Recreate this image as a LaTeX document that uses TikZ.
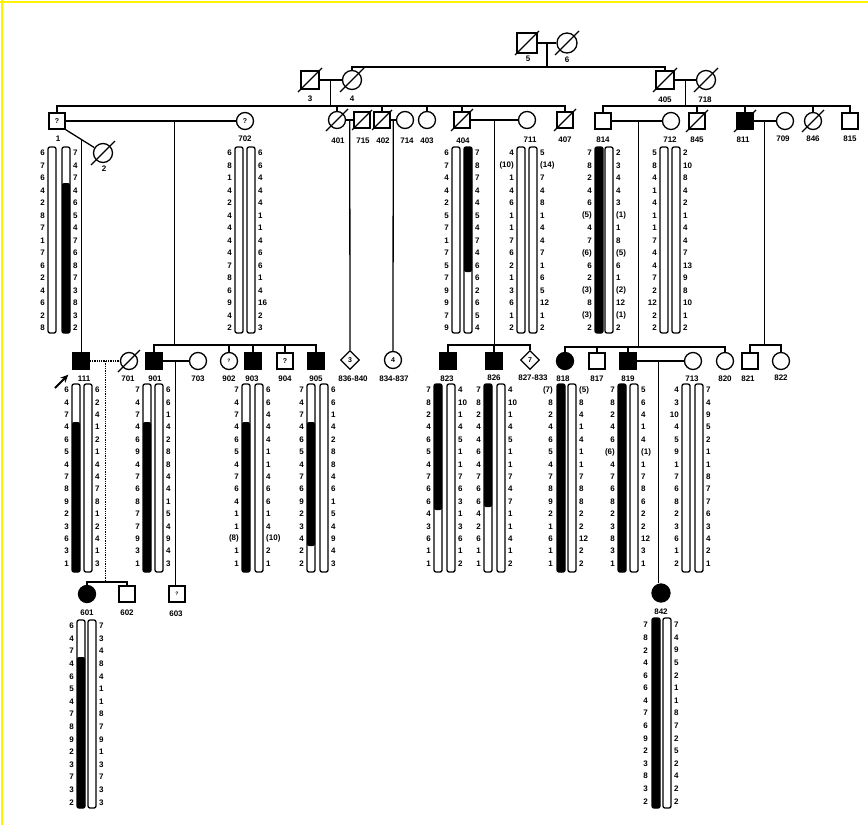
\documentclass[tikz,border=0pt]{standalone}
\usepackage{fontspec}
\setmainfont{Liberation Sans}
\usetikzlibrary{shapes.geometric,arrows.meta,calc}
\tikzset{
 male/.style={draw, rectangle, minimum size=16pt, inner sep=0pt, line width=1.3pt, fill=white, font=\fontsize{7}{7}\selectfont\bfseries},
 female/.style={draw, circle, minimum size=17pt, inner sep=0pt, line width=1.3pt, fill=white, font=\fontsize{7}{7}\selectfont\bfseries},
 unk/.style={draw, diamond, minimum size=19pt, inner sep=0pt, line width=1.3pt, fill=white, font=\fontsize{7}{7}\selectfont\bfseries},
 aff/.style={fill=black},
 num/.style={font=\fontsize{8}{8}\selectfont\bfseries, inner sep=0pt},
 lab/.style={font=\fontsize{8}{8}\selectfont\bfseries, inner sep=0pt},
 conn/.style={line width=1.3pt},
 slash/.style={line width=1.3pt},
 bar/.style={line width=1.3pt, rounded corners=2pt},
}
\newcommand{\dead}[2][11]{\draw[slash] ($(#2)+(-#1,#1)$) -- ($(#2)+(#1,-#1)$);}
\newcommand{\wbar}[3]{\draw[bar, fill=white] (#1,#2) rectangle ({#1+8},#3);}
\newcommand{\bbar}[5]{\fill[rounded corners=2pt] (#1,#4) rectangle ({#1+8},#5); \draw[bar] (#1,#2) rectangle ({#1+8},#3);}
\newcommand{\numL}[5]{\foreach \v [count=\i] in {#5} {\node[num, anchor=east] (#1\i) at (#2,{#3+(\i-1)*#4}) {\v};}}
\newcommand{\numR}[5]{\foreach \v [count=\i] in {#5} {\node[num, anchor=west] (#1\i) at (#2,{#3+(\i-1)*#4}) {\v};}}
\begin{document}
\begin{tikzpicture}[x=1pt,y=-1pt]
\useasboundingbox (0,0) rectangle (868,825);
\fill[white] (0,0) rectangle (868,825);
\draw[yellow, line width=2.5pt] (0,2) -- (868,2);
\draw[yellow, line width=2.5pt] (2,0) -- (2,825);

% ---------------- Generation I
\coordinate (sib1) at (0,67);
\coordinate (sib2) at (0,106);
\node[male, minimum size=20pt] (n5) at (527,43) {};
\node[female, minimum size=20pt] (n6) at (567,43) {};
\draw[conn] (n5.east) -- (n6.west);
\coordinate (m56) at ($(n5.east)!0.5!(n6.west)$);
\draw[conn] (m56) -- (m56 |- sib1);
\dead[12]{n5} \dead[12]{n6}
\node[lab] (l5) at (528,59) {5};
\node[lab] (l6) at (567,60) {6};

\node[male, minimum size=18pt] (n3) at (310,80) {};
\node[female, minimum size=19pt] (n4) at (352,80) {};
\node[male, minimum size=18pt] (n405) at (665,80) {};
\node[female, minimum size=19pt] (n718) at (706,80) {};
\draw[conn] (n4.north) -- (n4.north |- sib1) -- (n405.north |- sib1) -- (n405.north);
\draw[conn] (n3.east) -- (n4.west);
\draw[conn] (n405.east) -- (n718.west);
\coordinate (m34) at ($(n3.east)!0.5!(n4.west)$);
\coordinate (m405) at ($(n405.east)!0.5!(n718.west)$);
\draw[conn] (m34) -- (m34 |- sib2);
\draw[conn] (m405) -- (m405 |- sib2);
\dead[12]{n3} \dead[12]{n4} \dead[12]{n405} \dead[12]{n718}
\node[lab] (l3) at (310,99) {3};
\node[lab] (l4) at (352,99) {4};
\node[lab] (l405) at (665,100) {405};
\node[lab] (l718) at (705,100) {718};

% ---------------- Generation II
\node[male] (n1) at (57,121) {?};
\node[female, minimum size=19pt] (n2) at (103,153) {};
\node[female] (n702) at (245,121) {?};
\node[female] (n401) at (337,120) {};
\node[male] (n715) at (362,120) {};
\node[male] (n402) at (382,120) {};
\node[female] (n714) at (405,120) {};
\node[female] (n403) at (427,120) {};
\node[male] (n404) at (462,120) {};
\node[female] (n711) at (527,120) {};
\node[male] (n407) at (565,120) {};
\node[male] (n814) at (603,121) {};
\node[female] (n712) at (671,121) {};
\node[male] (n845) at (697,121) {};
\node[male, aff] (n811) at (745,121) {};
\node[female] (n709) at (785,121) {};
\node[female] (n846) at (813,121) {};
\node[male] (n815) at (850,121) {};

\draw[conn] (n1.north) -- (n1.north |- sib2) -- (n407.north |- sib2) -- (n407.north);
\foreach \n in {n401,n402,n403,n404} {\draw[conn] (\n.north) -- (\n.north |- sib2);}
\draw[conn] (n814.north) -- (n814.north |- sib2) -- (n815.north |- sib2) -- (n815.north);
\foreach \n in {n845,n811,n846} {\draw[conn] (\n.north) -- (\n.north |- sib2);}

\draw[conn] (n1.south east) -- (n2);
\draw[conn] (n1.east) -- (n702.west);
\draw[conn] (n401.east) -- (n715.west);
\draw[conn] (n402.east) -- (n714.west);
\draw[conn] (n404.east) -- (n711.west);
\draw[conn] (n814.east) -- (n712.west);
\draw[conn] (n811.east) -- (n709.west);
\dead[12]{n2} \dead[11]{n401} \dead[10]{n715} \dead[10]{n402} \dead[11]{n404} \dead[11]{n407}
\dead[11]{n845} \dead[11]{n811} \dead[11]{n846}

\node[lab] (l1) at (58,139) {1};
\node[lab] (l2) at (104,169) {2};
\node[lab] (l702) at (245,139) {702};
\node[lab] (l401) at (338,141) {401};
\node[lab] (l715) at (363,141) {715};
\node[lab] (l402) at (383,141) {402};
\node[lab] (l714) at (407,141) {714};
\node[lab] (l403) at (427,141) {403};
\node[lab] (l404) at (463,141) {404};
\node[lab] (l711) at (530,140) {711};
\node[lab] (l407) at (565,140) {407};
\node[lab] (l814) at (603,140) {814};
\node[lab] (l712) at (670,140) {712};
\node[lab] (l845) at (697,140) {845};
\node[lab] (l811) at (743,140) {811};
\node[lab] (l709) at (783,139) {709};
\node[lab] (l846) at (813,139) {846};
\node[lab] (l815) at (850,139) {815};

% Gen II haplotypes
\wbar{48}{147}{333} \bbar{62}{147}{333}{183}{333}
\numL{a}{45}{153}{12.5}{6,7,6,4,2,8,7,1,7,6,2,4,6,2,8}
\numR{b}{73}{153}{12.5}{7,4,7,4,6,5,4,7,6,8,7,3,8,3,2}
\wbar{235}{147}{333} \wbar{247}{147}{333}
\numL{c}{232}{153}{12.5}{6,8,1,4,2,4,4,4,4,7,8,6,9,4,2}
\numR{d}{258}{153}{12.5}{6,6,4,4,4,1,1,4,6,6,1,4,16,2,3}
\wbar{452}{147}{333} \bbar{464}{147}{333}{147}{272}
\numL{e}{449}{153}{12.5}{6,7,4,4,2,5,7,1,7,5,7,9,9,7,9}
\numR{f}{475}{153}{12.5}{7,8,7,4,4,5,4,7,4,6,6,2,6,5,4}
\wbar{517}{147}{333} \wbar{529}{147}{333}
\numL{g}{514}{153}{12.5}{4,{(10)},1,4,6,1,1,7,6,2,1,3,6,1,2}
\numR{h}{540}{153}{12.5}{5,{(14)},7,4,8,1,4,4,7,1,6,5,12,1,2}
\bbar{595}{147}{333}{147}{333} \wbar{605}{147}{333}
\numL{i}{592}{153}{12.5}{7,8,2,4,6,{(5)},4,7,{(6)},6,2,{(3)},8,{(3)},2}
\numR{j}{616}{153}{12.5}{2,3,4,4,3,{(1)},1,8,{(5)},6,1,{(2)},12,{(1)},2}
\wbar{660}{147}{333} \wbar{672}{147}{333}
\numL{k}{657}{153}{12.5}{5,8,4,1,4,1,1,7,4,4,7,2,12,2,2}
\numR{m}{683}{153}{12.5}{2,10,8,4,2,1,4,4,7,13,9,8,10,1,2}

% ---------------- Generation III
\coordinate (sib3) at (0,345);
\node[male, aff] (n111) at (81,361) {};
\node[female] (n701) at (129,361) {};
\node[male, aff] (n901) at (154,361) {};
\node[female] (n703) at (198,361) {};
\node[female] (n902) at (229,361) {\fontsize{5}{5}\selectfont ?};
\node[male, aff] (n903) at (253,361) {};
\node[male] (n904) at (285,361) {?};
\node[male, aff] (n905) at (316,361) {};
\node[unk] (d836) at (350,360) {3};
\node[female] (c834) at (393,360) {4};
\node[male, aff] (n823) at (448,361) {};
\node[male, aff] (n826) at (494,361) {};
\node[unk] (d827) at (530,360) {7};
\node[female, aff] (n818) at (565,361) {};
\node[male] (n817) at (597,361) {};
\node[male, aff] (n819) at (628,361) {};
\node[female] (n713) at (693,361) {};
\node[female] (n820) at (725,361) {};
\node[male] (n821) at (750,361) {};
\node[female] (n822) at (781,361) {};

% descents from generation II
\coordinate (m1) at ($(n1.east)!0.64!(n702.west)$);
\draw[conn] (m1) -- (m1 |- sib3);
\draw[conn] (n901.north) -- (n901.north |- sib3) -- (n905.north |- sib3) -- (n905.north);
\foreach \n in {n902,n903,n904} {\draw[conn] (\n.north) -- (\n.north |- sib3);}
\coordinate (d12) at ($(n1.south east)!0.42!(n2.center)$);
\draw[conn] (d12) -- (d12 |- n111.north);
\coordinate (m401) at ($(n401.east)!0.5!(n715.west)$);
\draw[conn] (m401) -- (d836.north);
\coordinate (m402) at ($(n402.east)!0.5!(n714.west)$);
\draw[conn] (m402) -- (c834.north);
\coordinate (m404) at ($(n404.east)!0.5!(n711.west)$);
\draw[conn] (m404) -- (m404 |- sib3);
\draw[conn] (n823.north) -- (n823.north |- sib3) -- (d827.north |- sib3) -- (d827.north);
\draw[conn] (n826.north) -- (n826.north |- sib3);
\coordinate (sib3b) at (0,347);
\coordinate (m814) at ($(n814.east)!0.54!(n712.west)$);
\draw[conn] (m814) -- (m814 |- sib3b);
\draw[conn] (n818.north) -- (n818.north |- sib3b) -- (n820.north |- sib3b) -- (n820.north);
\foreach \n in {n817,n819} {\draw[conn] (\n.north) -- (\n.north |- sib3b);}
\coordinate (m811) at ($(n811.east)!0.5!(n709.west)$);
\draw[conn] (m811) -- (m811 |- sib3);
\draw[conn] (n821.north) -- (n821.north |- sib3) -- (n822.north |- sib3) -- (n822.north);

% marriages generation III
\draw[conn, densely dotted] (n111.east) -- (n701.west);
\draw[conn] (n901.east) -- (n703.west);
\draw[conn] (n819.east) -- (n713.west);
\dead[11]{n701}

\node[lab] (l111) at (84,379) {111};
\node[lab] (l701) at (128,379) {701};
\node[lab] (l901) at (155,379) {901};
\node[lab] (l703) at (198,379) {703};
\node[lab] (l902) at (229,379) {902};
\node[lab] (l903) at (252,379) {903};
\node[lab] (l904) at (285,379) {904};
\node[lab] (l905) at (316,379) {905};
\node[lab] (l836) at (353,379) {836-840};
\node[lab] (l834) at (394,379) {834-837};
\node[lab] (l823) at (447,379) {823};
\node[lab] (l826) at (494,378) {826};
\node[lab] (l827) at (533,378) {827-833};
\node[lab] (l818) at (563,379) {818};
\node[lab] (l817) at (597,379) {817};
\node[lab] (l819) at (628,379) {819};
\node[lab] (l713) at (692,379) {713};
\node[lab] (l820) at (725,379) {820};
\node[lab] (l821) at (748,379) {821};
\node[lab] (l822) at (781,378) {822};
\coordinate (arrS) at (55,388);
\draw[line width=1.8pt, -{Stealth[length=8pt,width=7pt]}] (arrS) -- ($(n111.south west)+(-4,5)$);

% Gen III haplotypes
\bbar{72}{384}{572}{422}{572} \wbar{84}{384}{572}
\numL{p}{69}{390}{12.4}{6,4,7,4,6,5,4,7,8,9,2,3,6,3,1}
\numR{q}{95}{390}{12.4}{6,2,4,1,2,1,4,4,7,8,1,2,4,1,3}
\bbar{143}{384}{572}{422}{572} \wbar{155}{384}{572}
\numL{r}{140}{390}{12.4}{7,4,7,4,6,9,4,7,6,8,7,7,9,3,1}
\numR{s}{166}{390}{12.4}{6,6,1,4,2,8,8,4,4,1,5,4,9,4,3}
\bbar{242}{384}{572}{422}{572} \wbar{255}{384}{572}
\numL{t}{239}{390}{12.4}{7,4,7,4,6,5,4,7,6,4,1,1,{(8)},1,1}
\numR{u}{266}{390}{12.4}{6,6,4,4,4,1,1,4,6,6,1,4,{(10)},2,1}
\bbar{307}{384}{572}{422}{546} \wbar{320}{384}{572}
\numL{v}{304}{390}{12.4}{7,4,7,4,6,5,4,7,6,9,2,3,4,2,2}
\numR{w}{331}{390}{12.4}{6,6,1,4,2,8,8,4,6,1,5,4,9,4,3}
\bbar{434}{384}{572}{384}{510} \wbar{447}{384}{572}
\numL{x}{431}{390}{12.4}{7,8,2,4,6,5,4,7,6,6,4,3,6,1,1}
\numR{y}{458}{390}{12.4}{4,10,1,4,5,1,1,7,6,3,1,3,6,1,2}
\bbar{484}{384}{572}{384}{507} \wbar{497}{384}{572}
\numL{z}{481}{390}{12.4}{7,8,2,4,4,6,4,7,6,6,4,2,6,1,1}
\numR{A}{508}{390}{12.4}{4,10,1,4,5,1,1,7,4,7,1,1,4,1,2}
\bbar{557}{384}{572}{384}{572} \wbar{568}{384}{572}
\numL{B}{553}{390}{12.4}{{(7)},8,2,4,6,5,4,7,8,9,2,1,6,1,1}
\numR{C}{579}{390}{12.4}{{(5)},8,4,1,4,1,1,7,8,8,2,2,12,2,2}
\bbar{618}{384}{572}{384}{572} \wbar{630}{384}{572}
\numL{D}{615}{390}{12.4}{7,8,2,4,6,{(6)},4,7,6,8,2,3,8,3,1}
\numR{E}{641}{390}{12.4}{5,6,4,1,4,{(1)},1,7,8,6,2,2,12,3,1}
\wbar{682}{384}{572} \wbar{695}{384}{572}
\numL{F}{679}{390}{12.4}{4,3,10,4,5,9,1,7,6,8,2,3,6,1,2}
\numR{G}{706}{390}{12.4}{7,4,9,5,2,1,1,8,7,7,6,3,4,2,1}

% ---------------- Generation IV
\coordinate (sib4) at (0,582);
\node[female, aff] (n601) at (87,594) {};
\node[male] (n602) at (127,594) {};
\node[male] (n603) at (177,594) {\fontsize{5}{5}\selectfont ?};
\node[female, aff, minimum size=18pt] (n842) at (661,593) {};
\coordinate (m111) at ($(n111.east)!0.53!(n701.west)$);
\draw[conn, densely dotted] (m111) -- (m111 |- sib4);
\draw[conn] (n601.north) -- (n601.north |- sib4) -- (n602.north |- sib4) -- (n602.north);
\coordinate (m901) at ($(n901.east)!0.5!(n703.west)$);
\draw[conn] (m901) -- (m901 |- n603.north);
\coordinate (m819) at ($(n819.east)!0.47!(n713.west)$);
\draw[conn] (m819) -- (m819 |- n842.north);
\node[lab] (l601) at (87,613) {601};
\node[lab] (l602) at (127,613) {602};
\node[lab] (l603) at (176,614) {603};
\node[lab] (l842) at (661,612) {842};

\bbar{77}{620}{808}{657}{808} \wbar{88}{620}{808}
\numL{H}{74}{626}{12.6}{6,4,7,4,6,5,4,7,8,9,2,3,7,3,2}
\numR{I}{99}{626}{12.6}{7,3,4,8,4,1,1,8,7,9,1,3,7,3,3}
\bbar{652}{618}{808}{618}{808} \wbar{663}{618}{808}
\numL{J}{648}{625}{12.6}{7,8,2,4,6,6,4,7,6,9,2,3,8,3,2}
\numR{K}{674}{625}{12.6}{7,4,9,5,2,1,1,8,7,2,5,2,4,2,2}
\end{tikzpicture}
\end{document}
